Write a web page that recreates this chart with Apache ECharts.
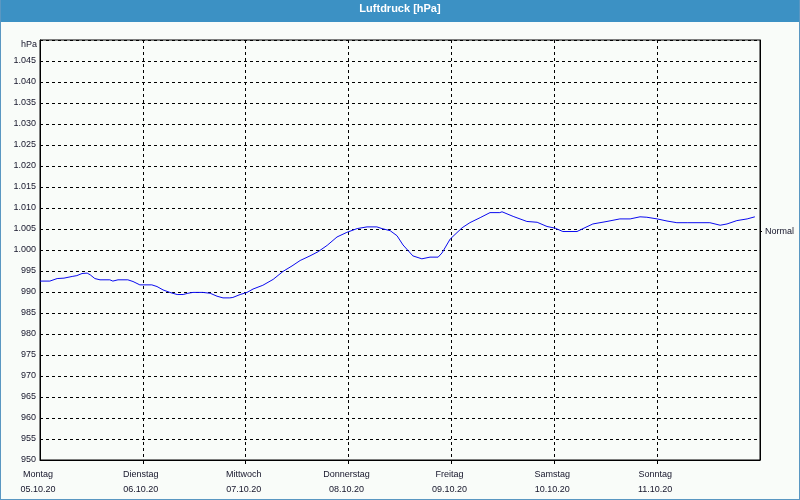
<!DOCTYPE html>
<html>
<head>
<meta charset="utf-8">
<script src="https://cdn.jsdelivr.net/npm/echarts@6/dist/echarts.min.js"></script>
<style>
  html, body { margin: 0; padding: 0; background: #f9fcf9; }
  #wrap { position: relative; width: 800px; height: 500px; }
  #chart { position: absolute; left: 0; top: 0; width: 800px; height: 500px; }
  #frame { position: absolute; left: 0; top: 0; width: 800px; height: 500px; box-sizing: border-box;
           border: 1px solid #5a97c2; border-top: none; pointer-events: none; }
</style>
</head>
<body>
<div id="wrap"><div id="chart"></div><div id="frame"></div></div>
<script>
const chartTitle = 'Luftdruck [hPa]';
const unitLabel = 'hPa';
const normalLabel = 'Normal';
const normalValue = 1004.5;
const dayNames = ['Montag', 'Dienstag', 'Mittwoch', 'Donnerstag', 'Freitag', 'Samstag', 'Sonntag'];
const dayDates = ['05.10.20', '06.10.20', '07.10.20', '08.10.20', '09.10.20', '10.10.20', '11.10.20'];
// hours since Monday 00:00
const hours = [0, 2.3, 4, 5.6, 7.5, 8.6, 9.8, 11, 11.7, 12.8, 14, 16.3, 17, 18.2, 20.5, 21.7, 23.3, 26.1, 27.3, 28.7,
  30.3, 32, 33.4, 34.5, 35.7, 38, 39.7, 41.3, 42.7, 44.3, 45, 46.7, 48.3, 49.7, 52, 54.4, 56.7, 58.8, 60.7, 63,
  64.9, 67, 69.3, 71.6, 74, 76.3, 78.6, 79.8, 81.7, 83.3, 84.7, 87, 89.1, 91, 92.9, 93.8, 95.7, 98.5, 100.3, 102.7,
  105, 107.3, 107.8, 110.4, 113.6, 116, 118.3, 120.2, 122, 125.3, 126.7, 129, 132.3, 135.3, 137.7, 140, 141.6, 144,
  146.3, 148.6, 151, 153.3, 156.3, 158.7, 160.3, 162.6, 165, 166.8];
const pressure = [992.6, 992.6, 993.2, 993.3, 993.7, 993.9, 994.4, 994.5, 994.1, 993.2, 992.9, 992.9, 992.6, 992.9, 992.9, 992.5, 991.7, 991.7, 991.3, 990.5,
  989.9, 989.4, 989.4, 989.7, 989.9, 989.9, 989.7, 989.0, 988.6, 988.6, 988.7, 989.4, 989.9, 990.7, 991.6, 993.0, 994.9, 996.2, 997.5, 998.6,
  999.6, 1001.1, 1003.1, 1004.2, 1005.1, 1005.5, 1005.5, 1005.1, 1004.6, 1003.4, 1001.2, 998.6, 997.9, 998.3, 998.3, 999.3, 1002.6, 1005.3, 1006.5, 1007.7,
  1008.9, 1008.9, 1009.1, 1008.0, 1006.8, 1006.6, 1005.6, 1005.2, 1004.4, 1004.4, 1005.1, 1006.2, 1006.8, 1007.4, 1007.4, 1007.9, 1007.8, 1007.4,
  1006.9, 1006.5, 1006.5, 1006.5, 1006.5, 1005.9, 1006.2, 1007.0, 1007.4, 1007.9];

const FONT = 'Liberation Sans';
const TXT = '#15152a';
const dashed = { type: [3, 3], color: '#000', width: 1 };

function fmtY(v) {
  if (v >= 1050) return '';
  if (v >= 1000) return Math.floor(v / 1000) + '.' + String(v % 1000).padStart(3, '0');
  return String(v);
}

const chart = echarts.init(document.getElementById('chart'), null, { renderer: 'canvas' });
chart.setOption({
  animation: false,
  backgroundColor: '#f9fcf9',
  graphic: [{ type: 'rect', left: 0, top: 0, z: -1, shape: { width: 800, height: 22 }, style: { fill: '#3c91c4' } }],
  title: {
    text: chartTitle, left: 'center', top: 3, padding: 0,
    textStyle: { color: '#fff', fontFamily: FONT, fontSize: 11, fontWeight: 'bold', lineHeight: 12 }
  },
  grid: { left: 40, right: 40, top: 40, bottom: 40, show: true, borderColor: '#000', borderWidth: 1, backgroundColor: 'transparent' },
  xAxis: {
    type: 'value', min: 0, max: 168, interval: 24,
    axisLine: { show: true, lineStyle: { color: '#000', width: 1 } },
    axisTick: { show: true, length: 4, customValues: [24, 48, 72, 96, 120, 144], lineStyle: { color: '#000' } },
    splitLine: { show: true, lineStyle: dashed },
    axisLabel: {
      color: TXT, fontFamily: FONT, fontSize: 9, lineHeight: 15, margin: 7, padding: [0, 4, 0, 0],
      showMaxLabel: false,
      formatter: function (v) { const i = Math.round(v / 24); return i < dayNames.length ? dayNames[i] + '\n' + dayDates[i] : ''; }
    }
  },
  yAxis: [{
    type: 'value', min: 950, max: 1050, interval: 5,
    name: unitLabel, nameLocation: 'end', nameGap: -5,
    nameTextStyle: { color: TXT, fontFamily: FONT, fontSize: 9, align: 'right', verticalAlign: 'middle', padding: [0, 3, 0, 0] },
    axisLine: { show: true, lineStyle: { color: '#000', width: 1 } },
    axisTick: { show: false },
    splitLine: { show: true, lineStyle: dashed },
    axisLabel: { color: TXT, fontFamily: FONT, fontSize: 9, margin: 4, formatter: fmtY }
  }, {
    type: 'value', min: 950, max: 1050, position: 'right',
    axisLine: { show: true, lineStyle: { color: '#000', width: 1 } },
    axisTick: { show: true, length: 2, customValues: [normalValue], lineStyle: { color: '#000' } },
    splitLine: { show: false },
    axisLabel: { color: TXT, fontFamily: FONT, fontSize: 9, margin: 5, customValues: [normalValue], formatter: function () { return normalLabel; } }
  }],
  series: [{
    type: 'line', yAxisIndex: 0, showSymbol: false, symbol: 'none', smooth: false,
    lineStyle: { color: '#0a0af0', width: 1 },
    data: hours.map((h, i) => [h, pressure[i]])
  }]
});
</script>
</body>
</html>
